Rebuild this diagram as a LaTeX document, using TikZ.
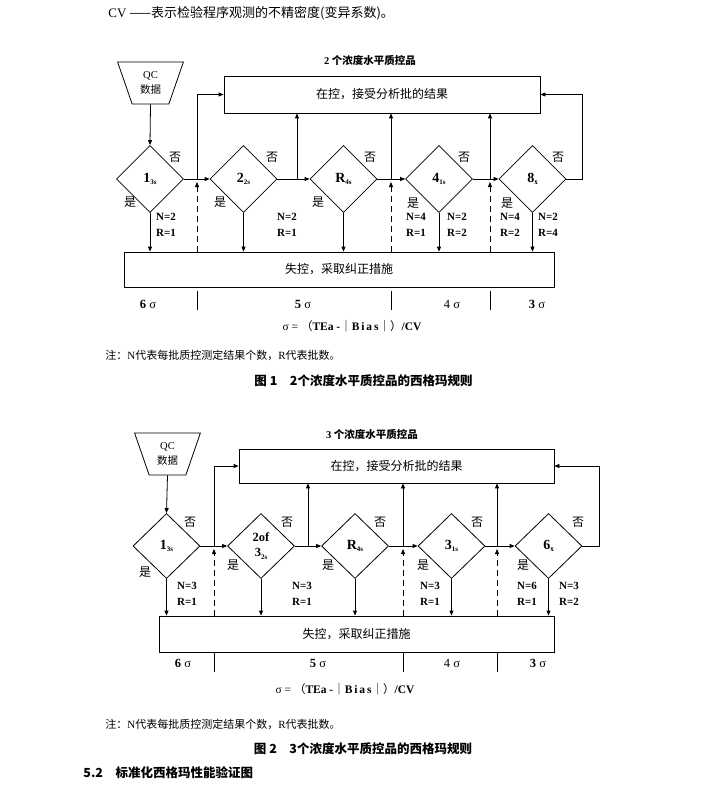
\documentclass[tikz,border=0pt]{standalone}
\usepackage{fontspec}
\setmainfont{Liberation Serif}
\newfontfamily\cjk{Noto Sans CJK SC}
\usetikzlibrary{shapes.geometric,arrows.meta,calc}
\newcommand\dsub[1]{\raisebox{-2.5pt}{\fontsize{7}{7}\selectfont #1}}
\begin{document}
\begin{tikzpicture}[x=1pt,y=-1pt,
  line width=0.8pt,
  arr/.style={-{Triangle[length=5pt,width=4pt]}},
  darr/.style={arr, dash pattern=on 6pt off 4pt},
  dia/.style={draw, diamond, inner sep=0pt, minimum width=67pt, minimum height=67pt, align=center, font=\bfseries\fontsize{14}{15}\selectfont},
  box/.style={draw, rectangle, inner sep=0pt, font=\cjk\fontsize{12}{12}\selectfont},
  qc/.style={draw, trapezium, shape border rotate=180, trapezium stretches=true, trapezium angle=70, minimum width=66pt, minimum height=42pt, inner sep=0pt, align=center, font=\fontsize{10.5}{15}\selectfont},
  yn/.style={font=\cjk\fontsize{12}{12}\selectfont, inner sep=0pt},
  nr/.style={font=\bfseries\fontsize{11}{16}\selectfont, align=left, inner sep=0pt},
  sig/.style={font=\fontsize{12.5}{12}\selectfont, inner sep=0pt},
  txt/.style={font=\cjk\fontsize{11}{11}\selectfont, inner sep=0pt, anchor=west},
  capt/.style={font=\cjk\bfseries\fontsize{12.5}{13}\selectfont, inner sep=0pt},
  ttl/.style={font=\bfseries\fontsize{10.5}{11}\selectfont, inner sep=0pt},
  frm/.style={font=\fontsize{11.5}{11}\selectfont, inner sep=0pt},
  ]
\useasboundingbox[fill=white] (0,0) rectangle (706,789);

% top line
\node[txt, font=\cjk\fontsize{13}{13}\selectfont] (cvline) at (108,13) {{\rmfamily CV} ——表示检验程序观测的不精密度(变异系数)。};

% ================= Figure 1 =================
\node[ttl] (t1) at (370,60) {2 {\cjk 个浓度水平质控品}};
\node[box, minimum width=316pt, minimum height=37pt] (ok1) at (382,94.5) {在控，接受分析批的结果};
\node[box, minimum width=430pt, minimum height=35pt] (bad1) at (339,269.5) {失控，采取纠正措施};
\node[qc] (qc1) at (150.5,83) {QC\\{\cjk 数据}};
\node[dia] (d11) at (150,179) {1\dsub{3s}};
\node[dia] (d12) at (243.5,179) {2\dsub{2s}};
\node[dia] (d13) at (343.5,179) {R\dsub{4s}};
\node[dia] (d14) at (439,179) {4\dsub{1s}};
\node[dia] (d15) at (532.5,179) {8\dsub{\={x}}};

\coordinate (j11) at (197,179);
\coordinate (j12) at (297,179);
\coordinate (j13) at (391,179);
\coordinate (j14) at (490,179);
\coordinate (r1) at (582,179);

\draw[arr] (qc1.south) -- (d11.north);
\draw[arr] (d11.east) -- (d12.west);
\draw[arr] (d12.east) -- (d13.west);
\draw[arr] (d13.east) -- (d14.west);
\draw[arr] (d14.east) -- (d15.west);
\draw[arr] (j11) |- (ok1.west);
\draw[arr] (j12) -- (j12 |- ok1.south);
\draw[arr] (j13) -- (j13 |- ok1.south);
\draw[arr] (j14) -- (j14 |- ok1.south);
\draw[arr] (d15.east) -- (r1) |- (ok1.east);
\foreach \d in {d11,d12,d13,d14,d15}
  \draw[arr] (\d.south) -- (\d.south |- bad1.north);
\foreach \j in {j11,j13,j14}{
  \draw[darr] (bad1.north -| \j) -- ([yshift=-3pt]\j);
  \draw ([yshift=-4pt]bad1.south -| \j) -- ([yshift=-23pt]bad1.south -| \j);
}

\node[yn] (n11) at (175,157) {否};
\node[yn] (n12) at (272,157) {否};
\node[yn] (n13) at (370,157) {否};
\node[yn] (n14) at (464,157) {否};
\node[yn] (n15) at (558,157) {否};
\node[yn] (y11) at (130,202) {是};
\node[yn] (y12) at (220,202) {是};
\node[yn] (y13) at (318,202) {是};
\node[yn] (y14) at (413,203) {是};
\node[yn] (y15) at (507,203) {是};

\node[nr] (nr11) at (166,225) {N=2\\R=1};
\node[nr] (nr12) at (287,225) {N=2\\R=1};
\node[nr] (nr14a) at (416,225) {N=4\\R=1};
\node[nr] (nr14b) at (457,225) {N=2\\R=2};
\node[nr] (nr15a) at (510,225) {N=4\\R=2};
\node[nr] (nr15b) at (548,225) {N=2\\R=4};

\node[sig] (s16) at (148,304) {\textbf{6} σ};
\node[sig] (s15) at (303,304) {\textbf{5} σ};
\node[sig] (s14) at (452,304) {4 σ};
\node[sig] (s13) at (537,304) {\textbf{3} σ};
\node[frm] (f1) at (352,326) {σ = {\cjk（}\textbf{TEa -}{\cjk｜}\textbf{B\,i\,a\,s}{\cjk｜）}\textbf{/CV}};

\node[txt] (note1) at (105,355) {注：{\rmfamily N}代表每批质控测定结果个数，{\rmfamily R}代表批数。};
\node[capt] (cap1) at (363.5,381) {图~1\hspace{1em}2个浓度水平质控品的西格玛规则};

% ================= Figure 2 =================
\node[ttl] (t2) at (372,434) {3 {\cjk 个浓度水平质控品}};
\node[box, minimum width=315pt, minimum height=34pt] (ok2) at (396.5,466) {在控，接受分析批的结果};
\node[box, minimum width=395pt, minimum height=36pt] (bad2) at (356.5,634) {失控，采取纠正措施};
\node[qc] (qc2) at (167.5,454) {QC\\{\cjk 数据}};
\node[dia, minimum height=65pt] (d21) at (166.5,546) {1\dsub{3s}};
\node[dia, minimum height=65pt, font=\bfseries\fontsize{12.5}{15}\selectfont] (d22) at (261,546) {2of\\3\dsub{2s}};
\node[dia, minimum height=65pt] (d23) at (355,546) {R\dsub{4s}};
\node[dia, minimum height=65pt] (d24) at (451.5,546) {3\dsub{1s}};
\node[dia, minimum height=65pt] (d25) at (548.5,546) {6\dsub{\={x}}};

\coordinate (j21) at (214,546);
\coordinate (j22) at (308,546);
\coordinate (j23) at (403,546);
\coordinate (j24) at (497,546);
\coordinate (r2) at (599,546);

\draw[arr] (qc2.south) -- (d21.north);
\draw[arr] (d21.east) -- (d22.west);
\draw[arr] (d22.east) -- (d23.west);
\draw[arr] (d23.east) -- (d24.west);
\draw[arr] (d24.east) -- (d25.west);
\draw[arr] (j21) |- (ok2.west);
\draw[arr] (j22) -- (j22 |- ok2.south);
\draw[arr] (j23) -- (j23 |- ok2.south);
\draw[arr] (j24) -- (j24 |- ok2.south);
\draw[arr] (d25.east) -- (r2) |- (ok2.east);
\foreach \d in {d21,d22,d23,d24,d25}
  \draw[arr] (\d.south) -- (\d.south |- bad2.north);
\foreach \j in {j21,j23,j24}{
  \draw[darr] (bad2.north -| \j) -- ([yshift=-3pt]\j);
  \draw ([yshift=0pt]bad2.south -| \j) -- ([yshift=-20pt]bad2.south -| \j);
}

\node[yn] (n21) at (190,522) {否};
\node[yn] (n22) at (287,522) {否};
\node[yn] (n23) at (380,522) {否};
\node[yn] (n24) at (477,522) {否};
\node[yn] (n25) at (578,522) {否};
\node[yn] (y21) at (145,572) {是};
\node[yn] (y22) at (233,565) {是};
\node[yn] (y23) at (328,565) {是};
\node[yn] (y24) at (423,565) {是};
\node[yn] (y25) at (523,565) {是};

\node[nr] (nr21) at (187,593.5) {N=3\\R=1};
\node[nr] (nr22) at (302,593.5) {N=3\\R=1};
\node[nr] (nr24) at (430,593.5) {N=3\\R=1};
\node[nr] (nr25a) at (527,593.5) {N=6\\R=1};
\node[nr] (nr25b) at (569,593.5) {N=3\\R=2};

\node[sig] (s26) at (183,663) {\textbf{6} σ};
\node[sig] (s25) at (318,663) {\textbf{5} σ};
\node[sig] (s24) at (452,663) {4 σ};
\node[sig] (s23) at (538,663) {\textbf{3} σ};
\node[frm] (f2) at (345,689) {σ = {\cjk（}\textbf{TEa -}{\cjk｜}\textbf{B\,i\,a\,s}{\cjk｜）}\textbf{/CV}};

\node[txt] (note2) at (105,724) {注：{\rmfamily N}代表每批质控测定结果个数，{\rmfamily R}代表批数。};
\node[capt] (cap2) at (363,749) {图~2\hspace{1em}3个浓度水平质控品的西格玛规则};
\node[capt, anchor=west] (sec) at (83,773) {5.2\hspace{1em}标准化西格玛性能验证图};
\end{tikzpicture}
\end{document}
